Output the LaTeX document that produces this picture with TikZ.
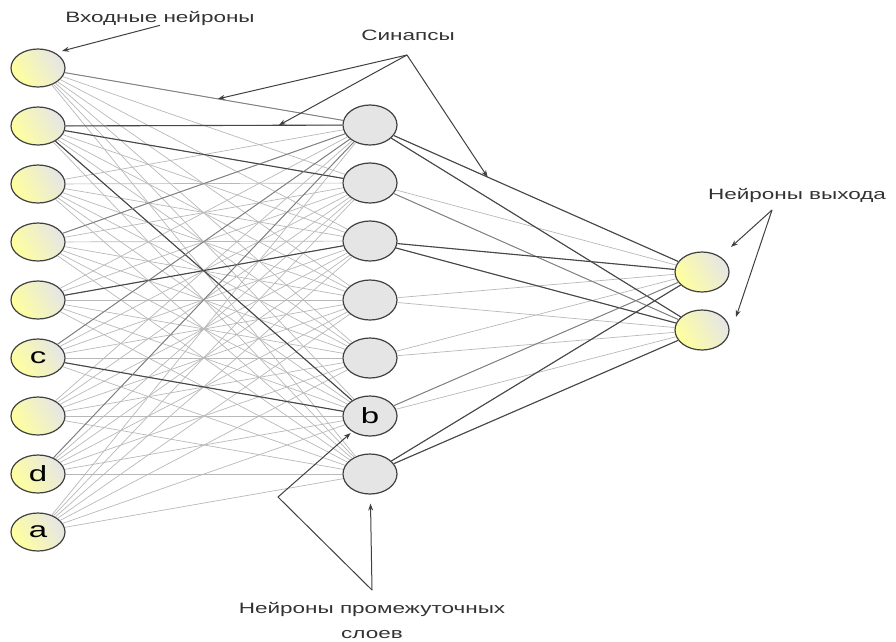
\documentclass[tikz,border=0pt]{standalone}
\usepackage{fontspec}
\newfontfamily\lblfont[FakeStretch=1.5]{Liberation Sans}
\usepackage{tikz}
\usetikzlibrary{shapes,arrows.meta,positioning}

\begin{document}
\begin{tikzpicture}[
        x=1pt, y=-1pt,
        inp/.style={ellipse, draw=black!75, line width=1.2pt, left color=yellow!38, right color=black!10, shading angle=120, minimum width=54pt, minimum height=38pt, inner sep=0pt, font=\lblfont\fontsize{22}{22}\selectfont},
        hid/.style={ellipse, draw=black!75, line width=1.2pt, fill=black!10, minimum width=54pt, minimum height=40pt, inner sep=0pt, font=\lblfont\fontsize{22}{22}\selectfont},
        outp/.style={inp, minimum height=40pt},
        lbl/.style={font=\lblfont\fontsize{15}{25}\selectfont, text=black!80, inner sep=0pt, align=center},
        syn/.style={draw=black!28, line width=0.7pt},
        synm/.style={draw=black!50, line width=0.9pt},
        synd/.style={draw=black!72, line width=1.1pt},
        arrow/.style={draw=black!75, line width=1pt, -{Stealth[length=7pt,width=5pt]}}
    ]
        \useasboundingbox (0,0) rectangle (896,641);

        % Input neurons
        \node[inp] (in1) at (38,68) {};
        \node[inp] (in2) at (38,126) {};
        \node[inp] (in3) at (38,184) {};
        \node[inp] (in4) at (38,242) {};
        \node[inp] (in5) at (38,300) {};
        \node[inp] (in6) at (38,358) {c};
        \node[inp] (in7) at (38,416) {};
        \node[inp] (in8) at (38,474) {d};
        \node[inp] (in9) at (38,532) {a};

        % Hidden neurons
        \node[hid] (hid1) at (370,125) {};
        \node[hid] (hid2) at (370,183) {};
        \node[hid] (hid3) at (370,241) {};
        \node[hid] (hid4) at (370,300) {};
        \node[hid] (hid5) at (370,358) {};
        \node[hid] (hid6) at (370,416) {b};
        \node[hid] (hid7) at (370,474) {};

        % Output neurons
        \node[outp] (out1) at (702,272) {};
        \node[outp] (out2) at (702,330) {};

        % Synapses
        \foreach \i in {1,...,9}
            \foreach \j in {1,...,7}
                \draw[syn] (in\i) -- (hid\j);
        \foreach \j in {1,...,7}
            \foreach \k in {1,2}
                \draw[syn] (hid\j) -- (out\k);

        \draw[synm] (in1) -- coordinate[pos=0.55] (syn1) (hid1);
        \draw[synd] (in2) -- coordinate[pos=0.77] (syn2) (hid1);
        \draw[synd] (in2) -- (hid2);
        \draw[synd] (in2) -- (hid6);
        \draw[synm] (in4) -- (hid1);
        \draw[synd] (in5) -- (hid3);
        \draw[synm] (in6) -- (hid1);
        \draw[synd] (in6) -- (hid6);
        \draw[synm] (in8) -- (hid1);
        \draw[synd] (hid1) -- coordinate[pos=0.33] (syn3) (out1);
        \draw[synd] (hid1) -- (out2);
        \draw[synm] (hid2) -- (out2);
        \draw[synd] (hid3) -- (out1);
        \draw[synd] (hid3) -- (out2);
        \draw[synm] (hid6) -- (out1);
        \draw[synd] (hid7) -- (out1);
        \draw[synd] (hid7) -- (out2);

        % Labels
        \node[lbl] (inlbl) at (160,18) {Входные нейроны};
        \node[lbl] (synlbl) at (408,35) {Синапсы};
        \node[lbl] (outlbl) at (797,195) {Нейроны выхода};
        \node[lbl] (hidlbl) at (372,620) {Нейроны промежуточных\\слоев};

        \coordinate (tipin) at (62,51);
        \coordinate (synapex) at (407,55);
        \coordinate (outapex) at (772,210);
        \coordinate (tipo1) at (731,247);
        \coordinate (tipo2) at (736,317);
        \coordinate (hidapex) at (372,590);
        \coordinate (hidbend) at (278,497);

        % Pointers
        \draw[arrow] (inlbl.south) -- (tipin);
        \draw[arrow] (synapex) -- (syn1);
        \draw[arrow] (synapex) -- (syn2);
        \draw[arrow] (synapex) -- (syn3);
        \draw[arrow] (outapex) -- (tipo1);
        \draw[arrow] (outapex) -- (tipo2);
        \draw[arrow, shorten >=9pt] (hidapex) -- (hid7);
        \draw[arrow, shorten >=2pt] (hidapex) -- (hidbend) -- (hid6);
    \end{tikzpicture}
\end{document}
